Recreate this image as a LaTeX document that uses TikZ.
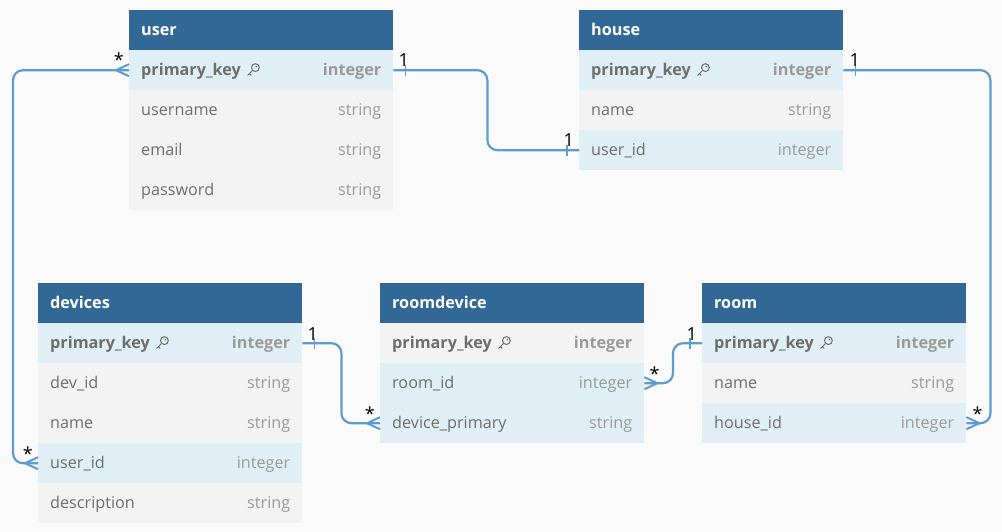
\documentclass[tikz,border=0pt]{standalone}
\usepackage{fontspec}
\setmainfont{Open Sans}
\usetikzlibrary{positioning,decorations.markings}
\usepackage{xcolor}
\definecolor{hdrblue}{HTML}{316896}
\definecolor{rowblue}{HTML}{E0EEF6}
\definecolor{rowgray}{HTML}{F3F3F3}
\definecolor{bggray}{HTML}{FAFAFA}
\definecolor{linkblue}{HTML}{5E9BD0}
\definecolor{fldtext}{HTML}{6E6E6E}
\definecolor{typetext}{HTML}{9A9A9A}
\newcommand{\fld}[2]{\textcolor{fldtext}{#1}\hfill\textcolor{typetext}{#2}}
\newcommand{\pkfld}{\textcolor{fldtext}{\bfseries primary\_key}\hfill\textcolor{typetext}{\bfseries integer}}
\tikzset{
  tblrow/.style={rectangle,anchor=north west,inner xsep=12pt,inner ysep=0pt,
    minimum height=40pt,text width=240pt,text height=11pt,text depth=0pt,
    font=\fontsize{16.2}{19}\selectfont},
  tblhead/.style={tblrow,fill=hdrblue,text=white,font=\fontsize{16.2}{19}\selectfont\bfseries},
  rowb/.style={tblrow,fill=rowblue},
  rowg/.style={tblrow,fill=rowgray},
  conn/.style={draw=linkblue,line width=2.2pt,rounded corners=10pt},
  card/.style={inner sep=0pt,text=black,font=\fontsize{18}{20}\selectfont},
  oneA/.style={postaction={decorate,decoration={markings,mark=at position 12pt with
    {\draw[linkblue,line width=1.6pt,sharp corners] (0,-5.5pt) -- (0,5.5pt);}}}},
  oneB/.style={postaction={decorate,decoration={markings,mark=at position -12pt with
    {\draw[linkblue,line width=1.6pt,sharp corners] (0,-5.5pt) -- (0,5.5pt);}}}},
  manyA/.style={postaction={decorate,decoration={markings,mark=at position 13pt with
    {\draw[linkblue,line width=2pt,sharp corners] (-13pt,6pt) -- (0,0) -- (-13pt,-6pt);}}}},
  manyB/.style={postaction={decorate,decoration={markings,mark=at position -13pt with
    {\draw[linkblue,line width=2pt,sharp corners] (13pt,6pt) -- (0,0) -- (13pt,-6pt);}}}},
  keyicon/.pic={
    \draw[fldtext,line width=1pt] (2.4,-2.6) circle (3.9pt);
    \fill[fldtext] (3.4,-3.6) circle (0.9pt);
    \draw[fldtext,line width=1pt,line cap=round] (-0.4,0.2) -- (-5.2,5) (-3.6,3.4) -- (-1.9,5.1);
  }
}

\begin{document}
\begin{tikzpicture}[x=1pt,y=-1pt]
% \draw[help lines] (0,0) grid (1002,532);
\fill[bggray] (0,0) rectangle (1002,532);
\useasboundingbox (0,0) rectangle (1002,532);
%
\node (u0) [tblhead] at (129,10) {user};
\node (u1) [rowb] at (129,50) {\pkfld};
\node (u2) [rowg] at (129,90) {\fld{username}{string}};
\node (u3) [rowg] at (129,130) {\fld{email}{string}};
\node (u4) [rowg] at (129,170) {\fld{password}{string}};
%
\node (h0) [tblhead] at (579,10) {house};
\node (h1) [rowb] at (579,50) {\pkfld};
\node (h2) [rowg] at (579,90) {\fld{name}{string}};
\node (h3) [rowb] at (579,130) {\fld{user\_id}{integer}};
%
\node (d0) [tblhead] at (38,283) {devices};
\node (d1) [rowb] at (38,323) {\pkfld};
\node (d2) [rowg] at (38,363) {\fld{dev\_id}{string}};
\node (d3) [rowg] at (38,403) {\fld{name}{string}};
\node (d4) [rowb] at (38,443) {\fld{user\_id}{integer}};
\node (d5) [rowg] at (38,483) {\fld{description}{string}};
%
\node (rd0) [tblhead] at (380,283) {roomdevice};
\node (rd1) [rowg] at (380,323) {\pkfld};
\node (rd2) [rowb] at (380,363) {\fld{room\_id}{integer}};
\node (rd3) [rowb] at (380,403) {\fld{device\_primary}{string}};
%
\node (r0) [tblhead] at (702,283) {room};
\node (r1) [rowb] at (702,323) {\pkfld};
\node (r2) [rowg] at (702,363) {\fld{name}{string}};
\node (r3) [rowb] at (702,403) {\fld{house\_id}{integer}};
%
\foreach \k in {u1,h1,d1,rd1,r1}
  \pic at ([xshift=124pt]\k.west) {keyicon};
%
\draw[conn,oneA,oneB] (u1.east) -- ++(94,0) |- (h3.west);
\draw[conn,oneA,manyB] (h1.east) -- ++(147,0) |- (r3.east);
\draw[conn,manyA,manyB] (u1.west) -- ++(-116,0) |- (d4.west);
\draw[conn,oneA,manyB] (d1.east) -- ++(39,0) |- (rd3.west);
\draw[conn,oneA,manyB] (r1.west) -- ++(-29,0) |- (rd2.east);
%
\node (m1) [card,anchor=south west] at ([shift={(5,-3)}]u1.east) {1};
\node (m2) [card,anchor=south east] at ([shift={(-5,-3)}]h3.west) {1};
\node (m3) [card,anchor=south west] at ([shift={(6,-3)}]h1.east) {1};
\node (m4) [card,anchor=south west] at ([shift={(6,-3)}]r3.east) {*};
\node (m5) [card,anchor=south east] at ([shift={(-5,-3)}]u1.west) {*};
\node (m6) [card,anchor=south east] at ([shift={(-5,-3)}]d4.west) {*};
\node (m7) [card,anchor=south west] at ([shift={(5,-3)}]d1.east) {1};
\node (m8) [card,anchor=south east] at ([shift={(-5,-3)}]rd3.west) {*};
\node (m9) [card,anchor=south west] at ([shift={(5,-3)}]rd2.east) {*};
\node (m10) [card,anchor=south east] at ([shift={(-5,-3)}]r1.west) {1};
\end{tikzpicture}
\end{document}
